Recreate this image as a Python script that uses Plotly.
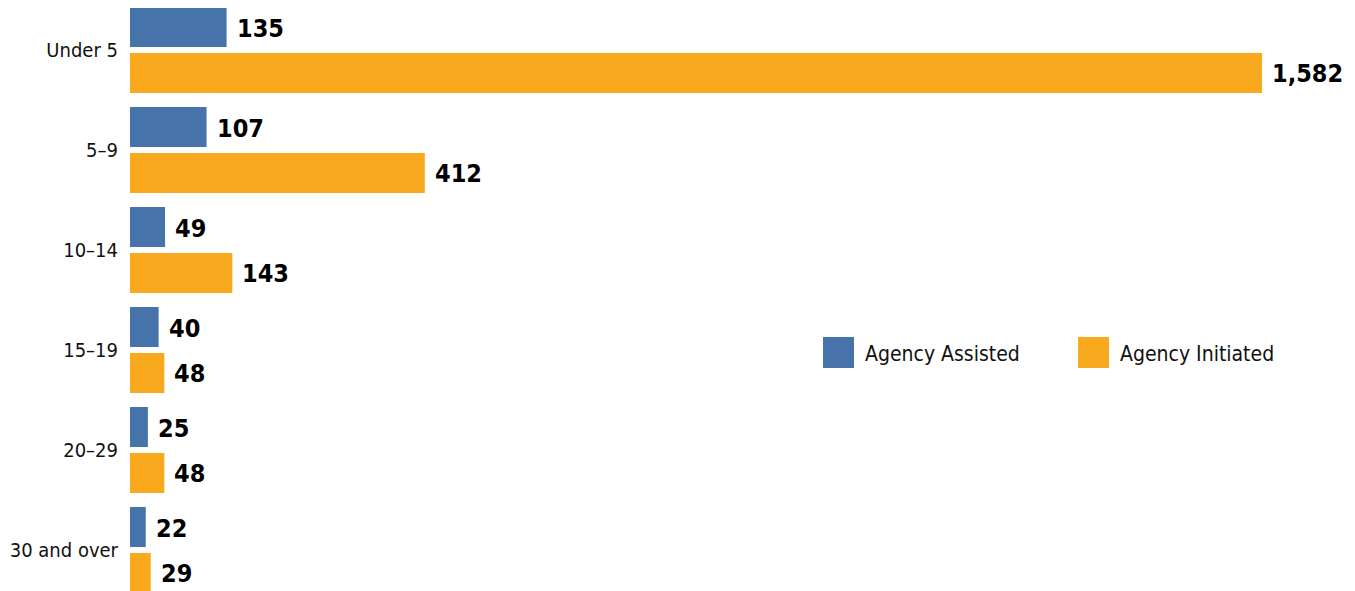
import plotly.graph_objects as go

# % Data
age_groups = ["Under 5", "5\u20139", "10\u201314", "15\u201319", "20\u201329", "30 and over"]
agency_assisted = [135, 107, 49, 40, 25, 22]
agency_initiated = [1582, 412, 143, 48, 48, 29]

BLUE = "#4673A9"
ORANGE = "#F9A91E"
LABEL_FONT = "DejaVu Sans Condensed, Liberation Sans Narrow, sans-serif"
VALUE_FONT = "DejaVu Sans Condensed, Liberation Sans Narrow, sans-serif"

# page body has an 8px margin, so size the figure to the visible window
PAGE_OFF = 8
W, H = 1355 - PAGE_OFF, 591 - PAGE_OFF
LEFT = 130 - PAGE_OFF


def px_x(p):
    # screen pixel -> paper x
    return (p - PAGE_OFF - LEFT) / (W - LEFT)


def px_y(p):
    # screen pixel -> paper y
    return 1 - (p - PAGE_OFF) / H


fig = go.Figure()
fig.add_trace(
    go.Bar(
        y=age_groups,
        x=agency_assisted,
        orientation="h",
        name="Agency Assisted",
        marker=dict(color=BLUE, line=dict(width=0)),
        hoverinfo="x",
    )
)
fig.add_trace(
    go.Bar(
        y=age_groups,
        x=agency_initiated,
        orientation="h",
        name="Agency Initiated",
        marker=dict(color=ORANGE, line=dict(width=0)),
        hoverinfo="x",
    )
)

# value labels next to each bar
annotations = []
for cat, a, b in zip(age_groups, agency_assisted, agency_initiated):
    for val, shift in ((a, 22), (b, -23)):
        annotations.append(
            dict(
                x=val,
                y=cat,
                xref="x",
                yref="y",
                text=f"{val:,}",
                showarrow=False,
                xanchor="left",
                yanchor="middle",
                xshift=8,
                yshift=shift,
                font=dict(family=VALUE_FONT, size=25, color="#000000", weight="bold"),
            )
        )

# hand-drawn legend (large square swatches)
legend_items = [("Agency Assisted", BLUE, 823), ("Agency Initiated", ORANGE, 1078)]
shapes = []
for name, color, x0 in legend_items:
    shapes.append(
        dict(
            type="rect",
            xref="paper",
            yref="paper",
            x0=px_x(x0),
            x1=px_x(x0 + 31),
            y0=px_y(368),
            y1=px_y(337),
            fillcolor=color,
            line=dict(width=0),
        )
    )
    annotations.append(
        dict(
            x=px_x(x0 + 40),
            y=px_y(354),
            xref="paper",
            yref="paper",
            text=name,
            showarrow=False,
            xanchor="left",
            yanchor="middle",
            font=dict(family=LABEL_FONT, size=21, color="#111111"),
        )
    )

fig.update_layout(
    width=W,
    height=H,
    barmode="group",
    bargap=0.08,
    bargroupgap=0.13,
    showlegend=False,
    plot_bgcolor="white",
    paper_bgcolor="white",
    margin=dict(l=LEFT, r=0, t=0, b=0),
    annotations=annotations,
    shapes=shapes,
)
fig.update_xaxes(
    range=[0, 1712],
    visible=False,
    showgrid=False,
    zeroline=False,
)
fig.update_yaxes(
    type="category",
    range=[5.41, -0.42],
    automargin=False,
    showgrid=False,
    zeroline=False,
    showline=False,
    ticks="",
    ticklabelstandoff=11,
    tickfont=dict(family=LABEL_FONT, size=20, color="#111111"),
)

fig.write_html("out.html")
